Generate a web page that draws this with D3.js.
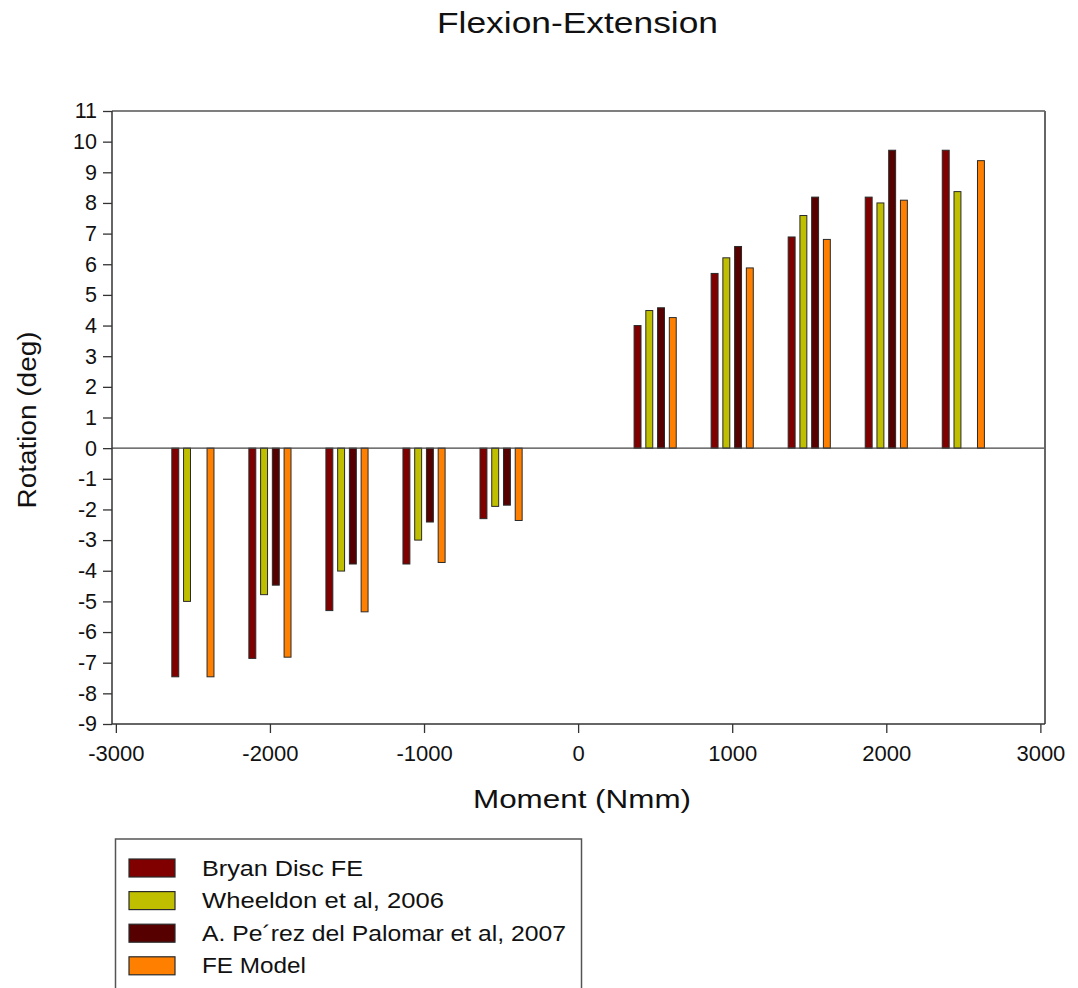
<!DOCTYPE html>
<html>
<head>
<meta charset="utf-8">
<script src="https://cdn.jsdelivr.net/npm/d3@7"></script>
<style>
  html, body { margin: 0; padding: 0; background: #fff; }
  svg { display: block; font-family: "Liberation Sans", Arial, sans-serif; }
</style>
</head>
<body>
<svg id="chart" width="1078" height="988"></svg>
<script>
// ---- data ----
const moments = [-2500, -2000, -1500, -1000, -500, 500, 1000, 1500, 2000, 2500];
const bryanDiscFE = [-7.46, -6.86, -5.30, -3.78, -2.30, 4.00, 5.70, 6.89, 8.19, 9.72];
const wheeldon2006 = [-5.00, -4.78, -4.01, -3.00, -1.90, 4.49, 6.21, 7.59, 8.00, 8.37];
const perezDelPalomar2007 = [null, -4.47, -3.78, -2.41, -1.86, 4.58, 6.58, 8.19, 9.72, null];
const feModel = [-7.46, -6.82, -5.34, -3.73, -2.36, 4.26, 5.88, 6.81, 8.09, 9.38];
const seriesNames = ["Bryan Disc FE", "Wheeldon et al, 2006", "A. Pe\u00B4rez del Palomar et al, 2007", "FE Model"];
const seriesColors = ["#800000", "#bfbf00", "#560000", "#ff8000"];
const xTicks = [-3000, -2000, -1000, 0, 1000, 2000, 3000];
const yTicks = [-9, -8, -7, -6, -5, -4, -3, -2, -1, 0, 1, 2, 3, 4, 5, 6, 7, 8, 9, 10, 11];
const titleText = "Flexion-Extension";
const xLabel = "Moment (Nmm)";
const yLabel = "Rotation (deg)";

const seriesValues = [bryanDiscFE, wheeldon2006, perezDelPalomar2007, feModel];

// ---- layout ----
const svg = d3.select("#chart");
const L = 112, R = 1045, T = 111, B = 724;

const x = d3.scaleLinear().domain([-3025, 3030]).range([L, R]);
const y = d3.scaleLinear().domain([-9, 11]).range([B, T]);
const halfGroup = 140;
const band = d3.scaleBand().domain(d3.range(seriesNames.length)).paddingInner(0.325).paddingOuter(0);

// bars
const barData = [];
moments.forEach((m, i) => {
  seriesValues.forEach((vals, s) => {
    if (vals[i] !== null && vals[i] !== undefined) barData.push({ m, s, v: vals[i] });
  });
});

const gBars = svg.append("g");
gBars.selectAll("rect").data(barData).enter().append("rect")
  .attr("x", d => { band.range([x(d.m - halfGroup), x(d.m + halfGroup)]); return band(d.s) + 0.5; })
  .attr("width", d => { band.range([x(d.m - halfGroup), x(d.m + halfGroup)]); return band.bandwidth() - 1; })
  .attr("y", d => Math.min(y(d.v), y(0)))
  .attr("height", d => Math.abs(y(d.v) - y(0)))
  .attr("fill", d => seriesColors[d.s])
  .attr("stroke", "#2a2a2a")
  .attr("stroke-width", 1);

// zero line
svg.append("line")
  .attr("x1", L).attr("x2", R).attr("y1", y(0)).attr("y2", y(0))
  .attr("stroke", "#444").attr("stroke-width", 1.3);

// frame top/right
svg.append("line").attr("x1", L).attr("x2", R).attr("y1", T).attr("y2", T)
  .attr("stroke", "#555").attr("stroke-width", 1.5);
svg.append("line").attr("x1", R).attr("x2", R).attr("y1", T).attr("y2", B)
  .attr("stroke", "#666").attr("stroke-width", 2);

const fmt = d => String(d);

// axes
const yAxis = d3.axisLeft(y).tickValues(yTicks).tickSize(9).tickPadding(6).tickFormat(fmt);
const gy = svg.append("g").attr("transform", `translate(${L},0)`).call(yAxis);
gy.select(".domain").attr("stroke", "#333").attr("stroke-width", 1.5).attr("d", `M0,${T}V${B}`);
gy.selectAll(".tick line").attr("stroke", "#333").attr("stroke-width", 1.3);
gy.selectAll(".tick text").attr("font-size", 21.5).attr("fill", "#111")
  .attr("font-family", "Liberation Sans, Arial, sans-serif");

const xAxis = d3.axisBottom(x).tickValues(xTicks).tickSize(9).tickPadding(12).tickFormat(fmt);
const gx = svg.append("g").attr("transform", `translate(0,${B})`).call(xAxis);
gx.select(".domain").attr("stroke", "#333").attr("stroke-width", 1.5).attr("d", `M${L},0H${R}`);
gx.selectAll(".tick line").attr("stroke", "#333").attr("stroke-width", 1.3);
gx.selectAll(".tick text").attr("font-size", 22).attr("fill", "#111")
  .attr("font-family", "Liberation Sans, Arial, sans-serif");

// title
svg.append("text").attr("x", 577.5).attr("y", 33).attr("text-anchor", "middle")
  .attr("font-size", 29).attr("fill", "#111")
  .attr("textLength", 281).attr("lengthAdjust", "spacingAndGlyphs")
  .text(titleText);

// x label
svg.append("text").attr("x", 582).attr("y", 808).attr("text-anchor", "middle")
  .attr("font-size", 25).attr("fill", "#111")
  .attr("textLength", 218).attr("lengthAdjust", "spacingAndGlyphs")
  .text(xLabel);

// y label
svg.append("text").attr("transform", "translate(36,420) rotate(-90)").attr("text-anchor", "middle")
  .attr("font-size", 26).attr("fill", "#111")
  .attr("textLength", 177).attr("lengthAdjust", "spacingAndGlyphs")
  .text(yLabel);

// legend
const lg = svg.append("g");
lg.append("rect").attr("x", 115.5).attr("y", 839).attr("width", 466).attr("height", 170)
  .attr("fill", "#fff").attr("stroke", "#555").attr("stroke-width", 1.5);
const legendWidths = [161, 242, 364, 104];
const rows = lg.selectAll("g.row").data(seriesNames).enter().append("g")
  .attr("transform", (d, i) => `translate(0,${859 + i * 32.6})`);
rows.append("rect").attr("x", 129).attr("y", 0).attr("width", 46).attr("height", 18)
  .attr("fill", (d, i) => seriesColors[i]).attr("stroke", "#2a2a2a").attr("stroke-width", 1.2);
rows.append("text").attr("x", 202).attr("y", 16.5)
  .attr("font-size", 22.5).attr("fill", "#111")
  .attr("textLength", (d, i) => legendWidths[i]).attr("lengthAdjust", "spacingAndGlyphs")
  .text(d => d);
</script>
</body>
</html>
